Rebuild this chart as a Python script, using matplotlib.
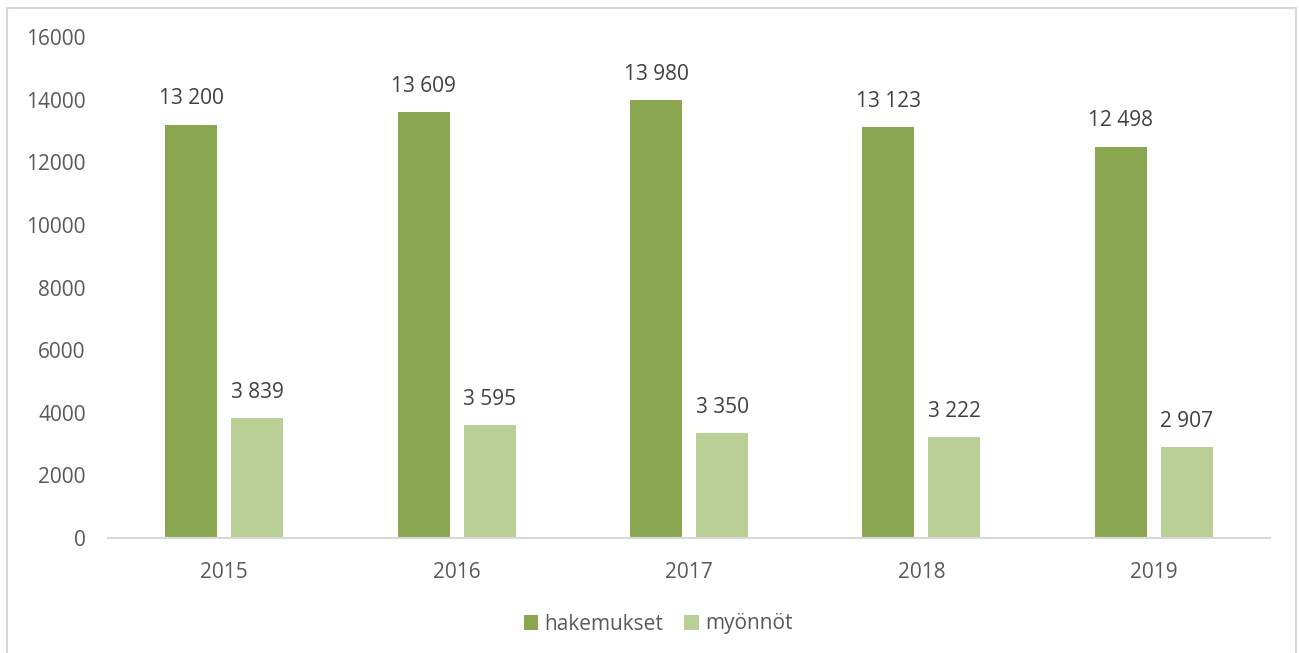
import matplotlib
matplotlib.use("Agg")
import matplotlib.pyplot as plt
from matplotlib.patches import Rectangle
import numpy as np

years = ["2015", "2016", "2017", "2018", "2019"]
hakemukset = [13200, 13609, 13980, 13123, 12498]
myonnot = [3839, 3595, 3350, 3222, 2907]
yticks = [0, 2000, 4000, 6000, 8000, 10000, 12000, 14000, 16000]

dark = "#8BA650"
light = "#B9CF96"
txt = "#595959"

plt.rcParams['font.family'] = ['Open Sans', 'DejaVu Sans']

fig = plt.figure(figsize=(12.99, 6.53), dpi=100)
ax = fig.add_axes([108/1299, 115/653, 1162/1299, 501/653])

x = np.arange(len(years))
w = 0.224
off = 0.142
b1 = ax.bar(x - off, hakemukset, w, color=dark, label="hakemukset")
b2 = ax.bar(x + off, myonnot, w, color=light, label="myönnöt")

def fmt(v):
    return f"{v:,}".replace(",", " ")

for bars, vals in ((b1, hakemukset), (b2, myonnot)):
    for r, v in zip(bars, vals):
        ax.annotate(fmt(v), (r.get_x() + r.get_width()/2, v), xytext=(0, 11),
                    textcoords="offset points", ha="center", va="bottom",
                    fontsize=15, color="#404040")

ax.set_xlim(-0.5, 4.5)
ax.set_ylim(0, 16000)
ax.set_yticks(yticks)
ax.set_yticklabels([str(t) for t in yticks])
ax.set_xticks(x)
ax.set_xticklabels(years)
ax.tick_params(axis="both", length=0, labelsize=15, colors=txt)
ax.tick_params(axis="y", pad=16)
ax.tick_params(axis="x", pad=17)
for s in ["top", "right", "left"]:
    ax.spines[s].set_visible(False)
ax.spines["bottom"].set_color("#D9D9D9")
ax.spines["bottom"].set_linewidth(1.5)

leg = fig.legend(handles=[b1, b2], labels=["hakemukset", "myönnöt"], loc="center",
                 bbox_to_anchor=(658/1299, 1 - 624/653), ncol=2, frameon=False,
                 fontsize=15, handlelength=0.7, handleheight=0.7, columnspacing=1.0,
                 handletextpad=0.3)
for t in leg.get_texts():
    t.set_color(txt)

fig.patches.append(Rectangle((7/1299, -0.05), 1289/1299, 1 - 8/653 + 0.05,
                             transform=fig.transFigure, fill=False,
                             edgecolor="#D9D9D9", linewidth=1.5))

fig.savefig("out.png", dpi=100)
